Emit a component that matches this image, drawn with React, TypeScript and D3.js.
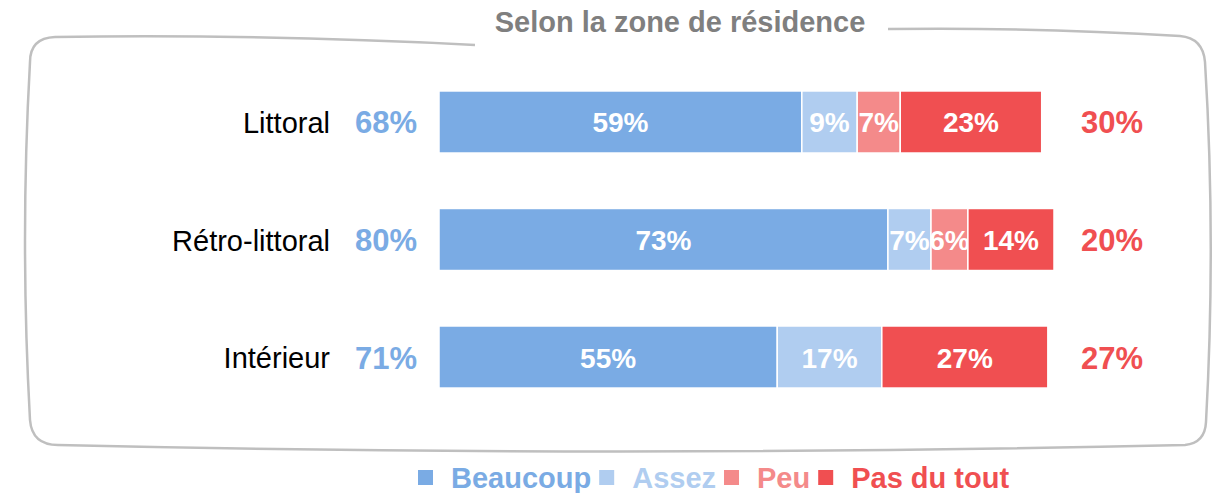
import React, { useEffect, useRef } from 'react';
import * as d3 from 'd3';

const zones = ['Littoral', 'Rétro-littoral', 'Intérieur'];
const series = ['Beaucoup', 'Assez', 'Peu', 'Pas du tout'];
const colors = ['#7aabe4', '#b0cdf0', '#f48a8a', '#f04f51'];
const beaucoup = [59, 73, 55];
const assez = [9, 7, 17];
const peu = [7, 6, 0];
const pasDuTout = [23, 14, 27];
const totalPositive = [68, 80, 71];
const totalNegative = [30, 20, 27];
const title = 'Selon la zone de résidence';

const W = 1217;
const H = 493;
const FONT = '"Liberation Sans", Arial, sans-serif';

const App = () => {
  const svgRef = useRef<SVGSVGElement>(null);

  useEffect(() => {
    const svg = d3.select(svgRef.current);
    svg.selectAll('*').remove();

    const x = d3.scaleLinear().domain([0, 100]).range([439, 1054]);
    const y = d3.scaleBand().domain(zones).range([35.5, 443.5]).paddingInner(0.472).paddingOuter(0.472);

    // frame around the chart, with a gap for the title
    svg.append('path')
      .attr('d', 'M475,45 Q265,34 55,37 Q30,38 30,62 Q20,240 30,420 Q32,445 58,445 Q620,458 1185,445 Q1205,443 1206,422 Q1216,240 1205,62 Q1203,38 1180,36 Q1030,27 888,29')
      .attr('fill', 'none')
      .attr('stroke', '#bfbfbf')
      .attr('stroke-width', 2.5);

    svg.append('text')
      .attr('x', 680).attr('y', 22)
      .attr('text-anchor', 'middle').attr('dominant-baseline', 'central')
      .attr('font-family', FONT).attr('font-size', 29).attr('font-weight', 'bold')
      .attr('fill', '#7f7f7f')
      .text(title);

    const values = [beaucoup, assez, peu, pasDuTout];
    const rows = zones.map((z, i) => {
      let acc = 0;
      return values.map((vals, k) => {
        const seg = { zone: z, k, v: vals[i], x0: acc, x1: acc + vals[i] };
        acc += vals[i];
        return seg;
      });
    });

    const g = svg.append('g');
    rows.forEach((segs) => {
      segs.filter((s) => s.v > 0).forEach((s) => {
        g.append('rect')
          .attr('x', x(s.x0))
          .attr('y', y(s.zone)!)
          .attr('width', x(s.x1) - x(s.x0))
          .attr('height', y.bandwidth())
          .attr('fill', colors[s.k])
          .attr('stroke', '#fff')
          .attr('stroke-width', 1.5);
        g.append('text')
          .attr('x', (x(s.x0) + x(s.x1)) / 2)
          .attr('y', y(s.zone)! + y.bandwidth() / 2 + 1)
          .attr('text-anchor', 'middle').attr('dominant-baseline', 'central')
          .attr('font-family', FONT).attr('font-size', 28).attr('font-weight', 'bold')
          .attr('fill', '#fff')
          .text(`${s.v}%`);
      });
    });

    zones.forEach((z, i) => {
      const cy = y(z)! + y.bandwidth() / 2 + 1;
      svg.append('text')
        .attr('x', 330).attr('y', cy)
        .attr('text-anchor', 'end').attr('dominant-baseline', 'central')
        .attr('font-family', FONT).attr('font-size', 29)
        .attr('fill', '#000')
        .text(z);
      svg.append('text')
        .attr('x', 386).attr('y', cy)
        .attr('text-anchor', 'middle').attr('dominant-baseline', 'central')
        .attr('font-family', FONT).attr('font-size', 31).attr('font-weight', 'bold')
        .attr('fill', colors[0])
        .text(`${totalPositive[i]}%`);
      svg.append('text')
        .attr('x', 1112).attr('y', cy)
        .attr('text-anchor', 'middle').attr('dominant-baseline', 'central')
        .attr('font-family', FONT).attr('font-size', 31).attr('font-weight', 'bold')
        .attr('fill', colors[3])
        .text(`${totalNegative[i]}%`);
    });

    // legend
    let lx = 418;
    const ly = 477;
    series.forEach((s, k) => {
      svg.append('rect')
        .attr('x', lx).attr('y', ly - 7)
        .attr('width', 15).attr('height', 15)
        .attr('fill', colors[k]);
      const t = svg.append('text')
        .attr('x', lx + 33).attr('y', ly + 1)
        .attr('dominant-baseline', 'central')
        .attr('font-family', FONT).attr('font-size', 29).attr('font-weight', 'bold')
        .attr('fill', colors[k])
        .text(s);
      const w = (t.node() as SVGTextElement).getComputedTextLength();
      lx = lx + 33 + w + 8;
    });
  }, []);

  return (
    <svg ref={svgRef} width={W} height={H} style={{ position: 'absolute', left: 0, top: 0, background: '#fff' }}></svg>
  );
};

export default App;
